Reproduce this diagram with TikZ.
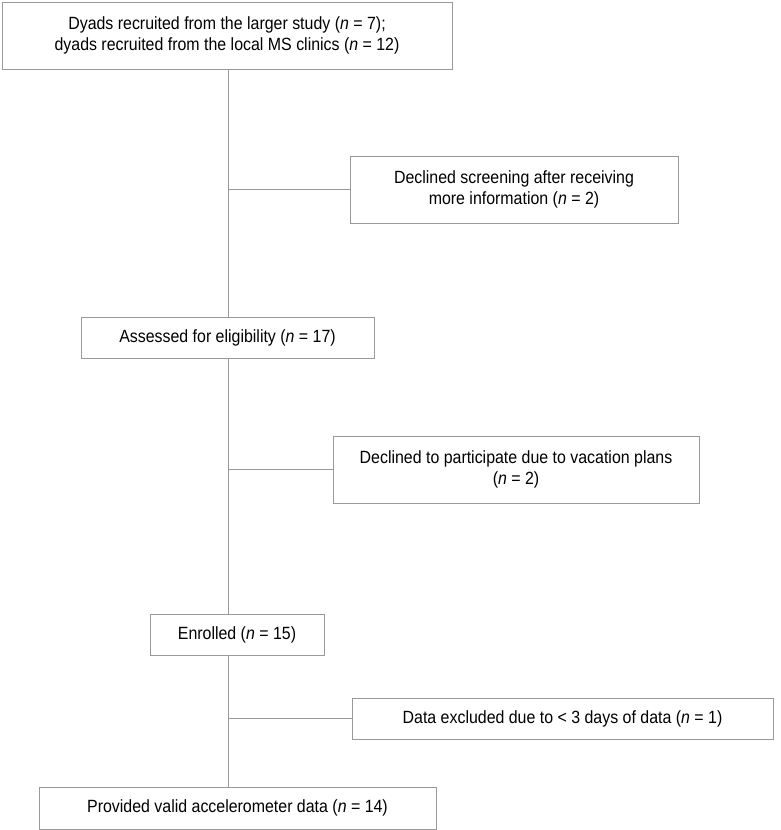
\documentclass[tikz,border=0pt]{standalone}
\usepackage{fontspec}
\setmainfont[FakeStretch=0.9]{Liberation Sans}
\usetikzlibrary{positioning}

\tikzset{
    flowbox/.style={draw=gray!80, line width=0.9pt, align=center, inner sep=0pt,
        font=\fontsize{17.7}{21.7}\selectfont},
    flowline/.style={draw=gray!80, line width=0.9pt}
}

\begin{document}
\begin{tikzpicture}[x=1pt, y=-1pt]
                \useasboundingbox (0,0) rectangle (780,830);

                % main column
                \node[flowbox, minimum width=450, minimum height=67] (recruit) at (227,35.5)
                    {Dyads recruited from the larger study (\textit{n} = 7);\\
                     dyads recruited from the local MS clinics (\textit{n} = 12)};
                \node[flowbox, minimum width=293, minimum height=41] (elig) at (227.5,337.5)
                    {Assessed for eligibility (\textit{n} = 17)};
                \node[flowbox, minimum width=174, minimum height=41] (enrol) at (237,634.5)
                    {Enrolled (\textit{n} = 15)};
                \node[flowbox, minimum width=397, minimum height=42] (valid) at (237.5,808)
                    {Provided valid accelerometer data (\textit{n} = 14)};

                % side boxes
                \node[flowbox, minimum width=328, minimum height=67] (decl1) at (514,189.5)
                    {Declined screening after receiving\\more information (\textit{n} = 2)};
                \node[flowbox, minimum width=366, minimum height=67] (decl2) at (516,469.5)
                    {Declined to participate due to vacation plans\\(\textit{n} = 2)};
                \node[flowbox, minimum width=421, minimum height=41] (excl) at (562.5,718.5)
                    {Data excluded due to < 3 days of data (\textit{n} = 1)};

                % spine
                \coordinate (s1) at (228,0);
                \draw[flowline] (recruit.south -| s1) -- (elig.north -| s1);
                \draw[flowline] (elig.south -| s1) -- (enrol.north -| s1);
                \draw[flowline] (enrol.south -| s1) -- (valid.north -| s1);

                % branches
                \foreach \side in {decl1, decl2, excl}
                    \draw[flowline] (\side.west -| s1) -- (\side.west);

\end{tikzpicture}
\end{document}
